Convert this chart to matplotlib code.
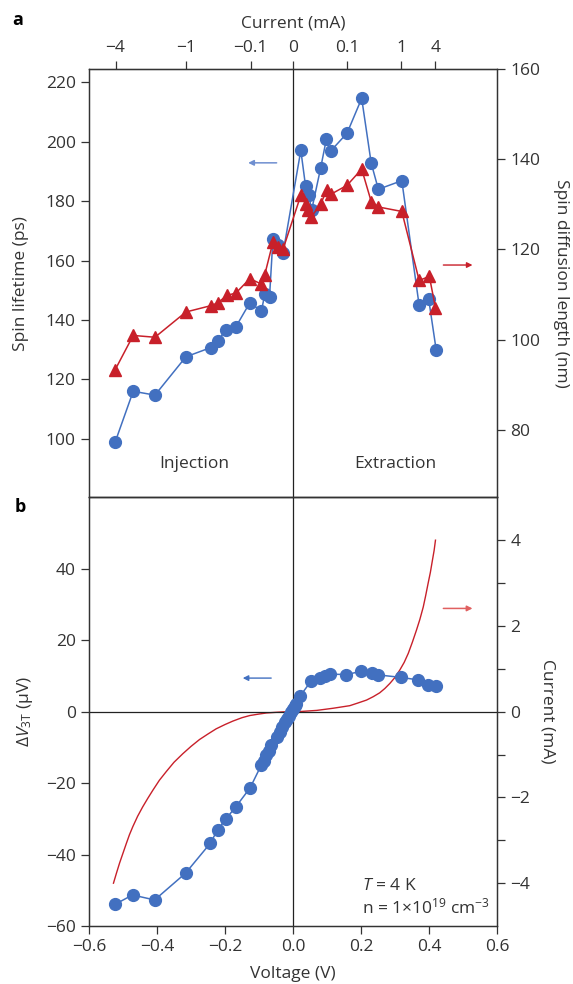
import numpy as np
import matplotlib
matplotlib.use("Agg")
import matplotlib.pyplot as plt

plt.rcParams['font.family'] = ['Open Sans', 'DejaVu Sans']
plt.rcParams['mathtext.fontset'] = 'custom'
plt.rcParams['mathtext.rm'] = 'Open Sans'
plt.rcParams['mathtext.it'] = 'Open Sans:italic'
plt.rcParams['mathtext.bf'] = 'Open Sans:bold'

BLUE = '#4270c0'
RED = '#c8202a'
DARK = '#333333'

# --- panel a: spin lifetime (left axis) and spin diffusion length (right axis)
v_tau = [-0.523, -0.470, -0.406, -0.315, -0.242, -0.222, -0.197, -0.168, -0.127,
         -0.093, -0.083, -0.069, -0.059, -0.044, -0.029,
         0.023, 0.037, 0.046, 0.055, 0.081, 0.098, 0.111, 0.159, 0.202, 0.230,
         0.251, 0.320, 0.371, 0.399, 0.421]
tau_ps = [98.9, 116.0, 114.7, 127.6, 130.7, 132.9, 136.7, 137.7, 145.8,
          143.0, 148.6, 147.9, 167.3, 165.2, 162.7,
          197.1, 185.0, 182.0, 177.1, 191.0, 200.8, 196.9, 202.9, 214.6, 192.8,
          184.0, 186.9, 144.9, 147.0, 130.0]

v_lam = [-0.523, -0.470, -0.406, -0.315, -0.242, -0.222, -0.194, -0.168, -0.127,
         -0.093, -0.083, -0.059, -0.044, -0.029,
         0.023, 0.037, 0.044, 0.054, 0.081, 0.099, 0.111, 0.159, 0.202, 0.230,
         0.251, 0.320, 0.371, 0.401, 0.419]
lam_nm = [93.3, 100.9, 100.5, 106.1, 107.5, 108.1, 109.8, 110.3, 113.5,
          112.3, 114.4, 121.6, 120.6, 120.1,
          132.0, 130.0, 128.8, 127.2, 130.0, 133.1, 132.2, 134.2, 137.8, 130.6,
          129.4, 128.4, 113.1, 114.0, 107.0]

# top axis: current (mA) tick labels placed at the matching voltage
cur_tick_v = [-0.522, -0.314, -0.125, 0.0, 0.159, 0.318, 0.418]
cur_tick_lab = ['\u22124', '\u22121', '\u22120.1', '0', '0.1', '1', '4']

# --- panel b: three-terminal signal and I-V curve
v_3t = [-0.523, -0.472, -0.407, -0.316, -0.243, -0.222, -0.198, -0.168, -0.126,
        -0.093, -0.086, -0.078, -0.071, -0.064, -0.047, -0.039, -0.031, -0.024,
        -0.018, -0.012, -0.006, 0.0, 0.005, 0.010, 0.022, 0.054, 0.079, 0.093,
        0.110, 0.157, 0.201, 0.231, 0.250, 0.317, 0.368, 0.397, 0.420]
dv_3t = [-53.9, -51.3, -52.7, -45.2, -36.8, -33.1, -30.1, -26.6, -21.3,
         -14.9, -13.9, -12.0, -11.0, -9.2, -7.0, -5.8, -4.3, -3.0,
         -2.0, -1.1, -0.2, 0.7, 1.5, 2.1, 4.5, 8.7, 9.4, 10.1,
         10.5, 10.4, 11.3, 10.8, 10.3, 9.6, 8.9, 7.5, 7.1]

v_iv = [-0.528, -0.519, -0.510, -0.500, -0.490, -0.481, -0.471, -0.457, -0.442,
        -0.427, -0.412, -0.393, -0.373, -0.350, -0.324, -0.300, -0.275, -0.250,
        -0.226, -0.200, -0.177, -0.150, -0.127, -0.100, -0.078, -0.050, -0.029,
        0.0, 0.020, 0.070, 0.118, 0.167, 0.190, 0.216, 0.236, 0.255, 0.270,
        0.285, 0.300, 0.314, 0.327, 0.339, 0.351, 0.363, 0.373, 0.383, 0.390,
        0.397, 0.404, 0.410, 0.415, 0.419]
i_ma = [-4.00, -3.76, -3.53, -3.30, -3.07, -2.87, -2.68, -2.44, -2.22,
        -2.02, -1.83, -1.60, -1.40, -1.18, -0.98, -0.81, -0.65, -0.52,
        -0.40, -0.30, -0.22, -0.14, -0.09, -0.055, -0.03, -0.015, -0.005,
        0.0, 0.003, 0.03, 0.08, 0.14, 0.20, 0.27, 0.35, 0.44, 0.54,
        0.66, 0.80, 0.97, 1.15, 1.36, 1.62, 1.90, 2.15, 2.44, 2.70,
        2.98, 3.25, 3.53, 3.76, 4.00]

fig = plt.figure(figsize=(5.73, 9.84), dpi=100)
left, width = 0.1553, 0.7121
ax_a = fig.add_axes([left, 0.4946, width, 0.9299 - 0.4946])
ax_b = fig.add_axes([left, 0.0589, width, 0.4946 - 0.0589])

fs = 12.5
tick_kw = dict(direction='out', length=6, width=0.9, colors=DARK, labelsize=fs)

for ax in (ax_a, ax_b):
    ax.set_xlim(-0.6, 0.6)
    for s in ax.spines.values():
        s.set_color(DARK)
        s.set_linewidth(0.9)
    ax.axvline(0, color='#222222', lw=0.9, zorder=1)
    ax.tick_params(**tick_kw)

# ---------- panel a
ax_a.set_ylim(80.3, 224.5)
ax_a.set_yticks(np.arange(100, 221, 20))
ax_a.tick_params(bottom=False, labelbottom=False)
ax_a.set_ylabel('Spin lifetime (ps)', fontsize=fs, color=DARK, labelpad=12)

ax_a2 = ax_a.twinx()
ax_a2.set_ylim(65, 160)
ax_a2.set_yticks(np.arange(80, 161, 20))
ax_a2.tick_params(**tick_kw)
ax_a2.tick_params(bottom=False, top=False, labelbottom=False)
for s in ax_a2.spines.values():
    s.set_color(DARK)
    s.set_linewidth(0.9)
ax_a2.set_ylabel('Spin diffusion length (nm)', fontsize=fs, color=DARK,
                 rotation=270, labelpad=21)

ax_a.plot(v_tau, tau_ps, '-o', color=BLUE, lw=1.1, ms=8.5, zorder=3)
ax_a2.plot(v_lam, lam_nm, '-^', color=RED, lw=1.1, ms=9, zorder=3)

top = ax_a.secondary_xaxis('top')
top.set_xticks(cur_tick_v, cur_tick_lab)
top.tick_params(**tick_kw)
top.spines['top'].set_color(DARK)
top.set_xlabel('Current (mA)', fontsize=fs, color=DARK, labelpad=9)

ax_a.annotate('', xy=(-0.140, 192.9), xytext=(-0.040, 192.9),
              arrowprops=dict(arrowstyle='-|>', color='#6f8fd0', lw=1.1,
                              mutation_scale=8))
ax_a.annotate('', xy=(0.536, 158.5), xytext=(0.434, 158.5),
              arrowprops=dict(arrowstyle='-|>', color=RED, lw=1.0,
                              mutation_scale=8))
ax_a.text(-0.291, 91.5, 'Injection', ha='center', va='center', fontsize=fs, color=DARK)
ax_a.text(0.301, 91.5, 'Extraction', ha='center', va='center', fontsize=fs, color=DARK)

# ---------- panel b
ax_b.set_ylim(-60, 60)
ax_b.set_yticks(np.arange(-60, 41, 20))
ax_b.set_xticks(np.arange(-0.6, 0.61, 0.2))
ax_b.set_xticklabels(['\u22120.6', '\u22120.4', '\u22120.2', '0.0', '0.2', '0.4', '0.6'])
ax_b.set_yticklabels(['\u221260', '\u221240', '\u221220', '0', '20', '40'])
ax_b.tick_params(top=False)
ax_b.axhline(0, color='#222222', lw=0.9, zorder=1)
ax_b.set_xlabel('Voltage (V)', fontsize=fs, color=DARK, labelpad=8)
ax_b.set_ylabel('$\\Delta\\mathit{V}_{\\mathrm{3T}}$ (\u00b5V)', fontsize=fs,
                color=DARK, labelpad=8)

ax_b2 = ax_b.twinx()
ax_b2.set_ylim(-5, 5)
ax_b2.set_yticks(np.arange(-4, 5, 1))
ax_b2.set_yticklabels(['\u22124', '', '\u22122', '', '0', '', '2', '', '4'])
ax_b2.tick_params(**tick_kw)
for s in ax_b2.spines.values():
    s.set_color(DARK)
    s.set_linewidth(0.9)
ax_b2.set_ylabel('Current (mA)', fontsize=fs, color=DARK, rotation=270, labelpad=18)

ax_b2.plot(v_iv, i_ma, '-', color=RED, lw=1.0, zorder=2)
ax_b.plot(v_3t, dv_3t, '-o', color=BLUE, lw=1.1, ms=8.5, zorder=3)
ax_b.set_zorder(ax_b2.get_zorder() + 1)
ax_b.patch.set_visible(False)

ax_b.annotate('', xy=(-0.156, 9.4), xytext=(-0.056, 9.4),
              arrowprops=dict(arrowstyle='-|>', color=BLUE, lw=1.0,
                              mutation_scale=8))
ax_b.annotate('', xy=(0.536, 28.9), xytext=(0.434, 28.9),
              arrowprops=dict(arrowstyle='-|>', color='#e06060', lw=1.1,
                              mutation_scale=8))
ax_b.text(0.202, -48.7, '$\\mathit{T}$ = 4 K', ha='left', va='center',
          fontsize=fs, color=DARK)
ax_b.text(0.202, -54.7, 'n = 1\u00d710$^{19}$ cm$^{-3}$',
          ha='left', va='center', fontsize=fs, color=DARK)

fig.text(0.022, 0.980, 'a', fontsize=13, fontweight='bold', va='center')
fig.text(0.026, 0.485, 'b', fontsize=13, fontweight='bold', va='center')

fig.savefig('out.png', dpi=100)
